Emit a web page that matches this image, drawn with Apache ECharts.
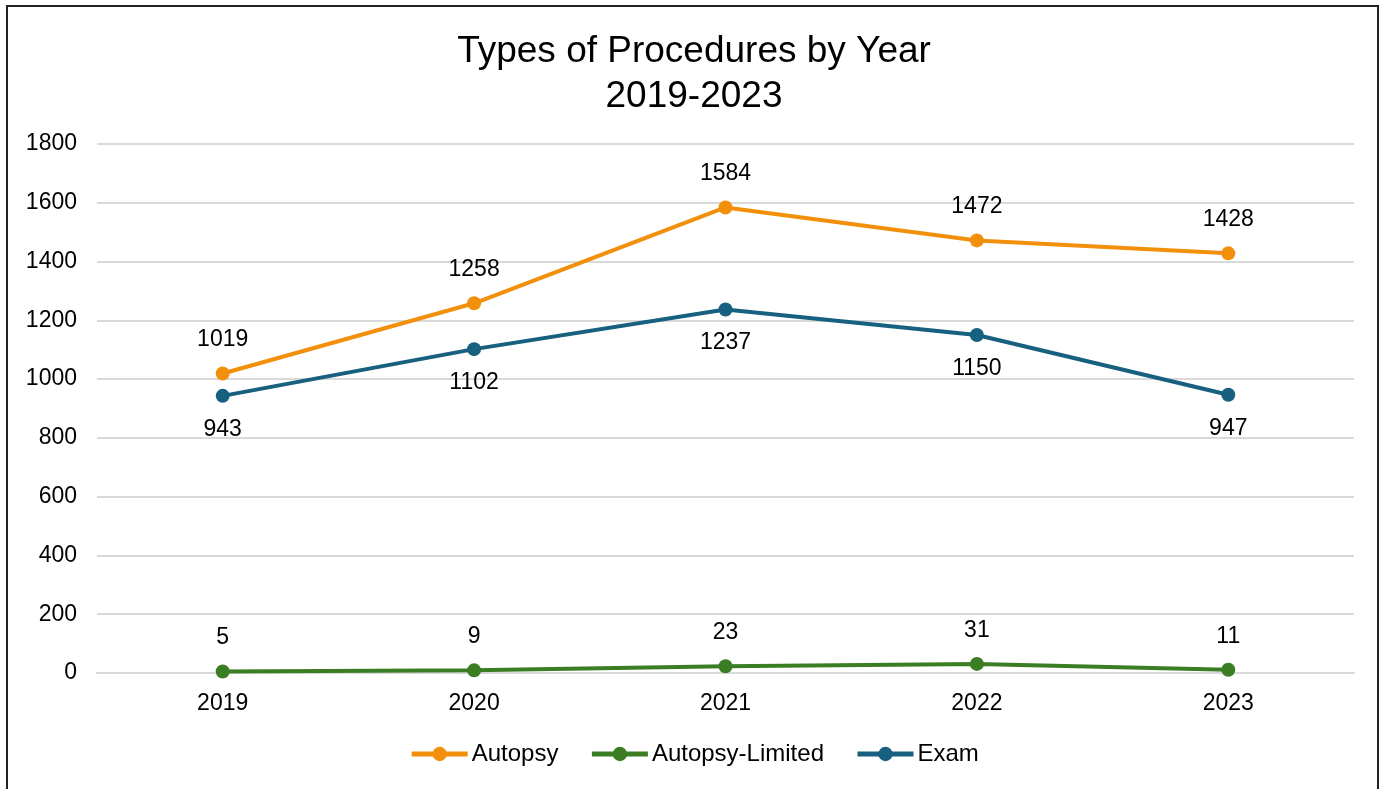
<!DOCTYPE html>
<html>
<head>
<meta charset="utf-8">
<script src="https://cdn.jsdelivr.net/npm/echarts@6/dist/echarts.min.js"></script>
<style>
html,body{margin:0;padding:0;background:#fff;}
#frame{position:absolute;left:6px;top:5px;width:1373px;height:800px;border:2px solid #222;box-sizing:border-box;}
#chart{position:absolute;left:0;top:0;width:1388px;height:789px;}
</style>
</head>
<body>
<div id="frame"></div>
<div id="chart"></div>
<script>
const years = ['2019', '2020', '2021', '2022', '2023'];
const autopsy = [1019, 1258, 1584, 1472, 1428];
const autopsyLimited = [5, 9, 23, 31, 11];
const exam = [943, 1102, 1237, 1150, 947];
const yTicks = {min: 0, max: 1800, interval: 200};

const font = 'Liberation Sans, Arial, sans-serif';
const chart = echarts.init(document.getElementById('chart'), null, {renderer: 'canvas'});

function mkSeries(name, data, color, pos) {
  return {
    name: name, type: 'line', data: data,
    symbol: 'circle', symbolSize: 14,
    lineStyle: {width: 4, color: color},
    itemStyle: {color: color},
    label: {show: true, position: pos, distance: 15, color: '#000', fontSize: 23, fontFamily: font},
    emphasis: {disabled: true}
  };
}

chart.setOption({
  animation: false,
  backgroundColor: 'transparent',
  title: {
    text: 'Types of Procedures by Year\n2019-2023',
    left: 'center', top: 24,
    textStyle: {fontSize: 37, fontWeight: 'normal', color: '#000', fontFamily: font, lineHeight: 45}
  },
  legend: {
    bottom: 18, left: 'center',
    itemWidth: 56, itemHeight: 18, itemGap: 31,
    lineStyle: {width: 5},
    textStyle: {fontSize: 24, color: '#000', fontFamily: font, padding: [0, 0, 0, -1]},
    data: ['Autopsy', 'Autopsy-Limited', 'Exam']
  },
  grid: {left: 97, right: 34, top: 144, bottom: 116},
  xAxis: {
    type: 'category', data: years, boundaryGap: true,
    axisLine: {show: true, lineStyle: {color: '#d9d9d9', width: 2}},
    axisTick: {show: false},
    axisLabel: {fontSize: 23, color: '#000', fontFamily: font, margin: 19}
  },
  yAxis: {
    type: 'value', min: yTicks.min, max: yTicks.max, interval: yTicks.interval,
    axisLine: {show: false}, axisTick: {show: false},
    splitLine: {lineStyle: {color: '#d9d9d9', width: 2}},
    axisLabel: {fontSize: 23, color: '#000', fontFamily: font, margin: 20, formatter: v => String(v)}
  },
  series: [
    mkSeries('Autopsy', autopsy, '#F2900C', 'top'),
    mkSeries('Autopsy-Limited', autopsyLimited, '#3B7D23', 'top'),
    mkSeries('Exam', exam, '#17607F', 'bottom')
  ]
});
</script>
</body>
</html>
